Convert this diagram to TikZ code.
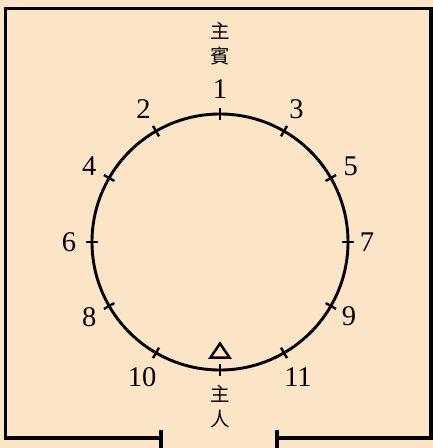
\documentclass[tikz,border=0pt]{standalone}
\usepackage{fontspec}
\setmainfont{Liberation Serif}
\newfontfamily\cjkfont{Noto Sans CJK TC}
\usetikzlibrary{calc}
\definecolor{paper}{HTML}{FCE4C6}
\tikzset{
    wall/.style={line width=3.4pt},
    ring/.style={line width=2.9pt},
    seatmark/.style={line width=2.4pt},
    seatnum/.style={font=\fontsize{28.5}{28.5}\selectfont, inner sep=0pt},
    role/.style={font=\cjkfont\fontsize{19.5}{25}\selectfont, align=center, inner sep=0pt}
}

\begin{document}
\begin{tikzpicture}[x=1pt, y=-1pt]
    % Background
    \fill[paper] (0,0) rectangle (433,448);
    \useasboundingbox (0,0) rectangle (433,448);
    \coordinate (c) at (220,242);

    % Room walls and door
    \draw[wall] (161,438) -- (5.5,438) -- (5.5,8.5) -- (431,8.5) -- (431,438) -- (277,438);
    \draw[wall] (161,430) -- (161,448);
    \draw[wall] (277,430) -- (277,448);

    % Table and seats
    \draw[ring] (c) circle[radius=128];
    \foreach \a in {0,30,...,330}
        \draw[seatmark] ([shift={(c)}]\a:122pt) -- ([shift={(c)}]\a:134pt);
    \draw[line width=2.5pt] (210.5,357.5) -- (220,343.5) -- (229.5,357.5) -- cycle;

    % Seat numbers
    \node[seatnum] (n1) at ([shift={(c)}]90:153pt) {1};
    \node[seatnum] (n2) at ([shift={(c)}]120:153pt) {2};
    \node[seatnum] (n3) at ([shift={(c)}]60:153pt) {3};
    \node[seatnum] (n4) at ([shift={(c)}]150:151pt) {4};
    \node[seatnum] (n5) at ([shift={(c)}]30:151pt) {5};
    \node[seatnum] (n6) at ([shift={(c)}]180:151pt) {6};
    \node[seatnum] (n7) at ([shift={(c)}]0:147pt) {7};
    \node[seatnum] (n8) at ([shift={(c)}]210:151pt) {8};
    \node[seatnum] (n9) at ([shift={(c)}]-30:149pt) {9};
    \node[seatnum] (n10) at ([shift={(c)}]240:156pt) {10};
    \node[seatnum] (n11) at ([shift={(c)}]-60:156pt) {11};

    % Guest and host
    \node[role] (guest) at (220,44) {主\\賓};
    \node[role] (host) at (220,407) {主\\人};
\end{tikzpicture}
\end{document}
